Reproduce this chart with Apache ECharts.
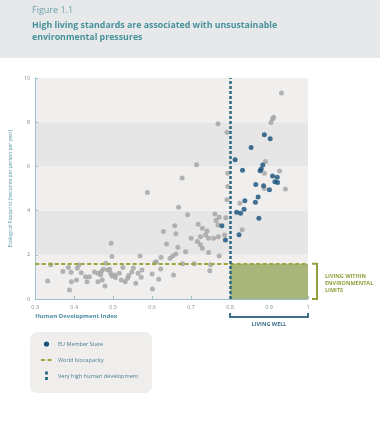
<!DOCTYPE html>
<html>
<head>
<meta charset="utf-8">
<script src="https://cdn.jsdelivr.net/npm/echarts@6/dist/echarts.min.js"></script>
<style>
html,body{margin:0;padding:0;background:#fff;}
#chart{width:385px;height:433px;}
</style>
</head>
<body>
<div id="chart"></div>
<script>
// ---- data (HDI, ecological footprint) ----
const otherCountries = [
  [0.332,0.82],[0.34,1.55],[0.371,1.24],[0.385,1.43],[0.388,0.41],[0.392,1.21],[0.393,0.78],
  [0.406,0.86],[0.408,1.39],[0.412,1.54],[0.418,1.19],[0.429,1.01],[0.433,0.78],[0.439,1.01],
  [0.452,1.22],[0.461,1.16],[0.461,0.78],[0.468,1.09],[0.47,1.24],[0.472,0.86],[0.475,1.35],
  [0.479,0.59],[0.481,1.62],[0.486,1.31],[0.491,1.35],[0.495,2.52],[0.497,1.92],[0.494,1.16],
  [0.497,1.04],[0.505,1.09],[0.506,0.97],[0.516,1.16],[0.521,0.86],[0.525,1.43],[0.531,0.78],
  [0.537,0.94],[0.54,1.06],[0.548,1.22],[0.552,1.4],[0.558,0.71],[0.564,1.16],[0.569,1.95],
  [0.572,0.98],[0.574,1.31],
  [0.588,4.82],[0.6,1.13],[0.601,0.45],[0.607,1.64],[0.611,1.69],[0.617,0.89],[0.622,1.36],
  [0.623,1.89],[0.629,3.05],[0.637,2.49],[0.646,1.84],[0.653,1.95],[0.655,1.09],[0.658,3.31],
  [0.661,2.95],[0.661,2.04],[0.666,2.34],[0.668,4.15],[0.677,5.47],[0.678,1.59],[0.686,2.14],
  [0.691,3.81],[0.7,2.75],[0.708,1.59],[0.714,6.07],[0.716,2.6],[0.718,3.38],[0.724,2.82],
  [0.724,2.45],[0.729,2.3],[0.729,3.2],[0.737,2.9],[0.741,3.08],[0.745,2.75],[0.745,2.1],
  [0.748,1.28],[0.75,1.55],[0.758,2.75],[0.761,3.85],[0.764,3.55],[0.769,3.35],[0.769,7.93],
  [0.77,2.82],[0.772,3.7],[0.772,1.95],[0.786,2.9],[0.789,3.68],[0.792,4.49],[0.792,7.54],
  [0.794,5.09],[0.794,5.69],[0.825,4.33],[0.831,3.13],[0.888,5.0],[0.888,5.69],[0.891,6.22],
  [0.905,7.99],[0.909,8.14],[0.912,8.22],[0.927,5.79],[0.932,9.32],[0.942,4.98]
];
const euMemberStates = [
  [0.779,3.31],[0.788,2.67],[0.813,6.3],[0.817,3.93],[0.823,2.91],[0.827,3.88],[0.832,5.83],
  [0.836,4.06],[0.838,4.45],[0.854,6.86],[0.865,4.38],[0.866,5.18],[0.872,4.62],[0.874,3.65],
  [0.877,5.8],[0.88,5.88],[0.884,6.06],[0.886,5.12],[0.888,7.43],[0.901,4.94],[0.903,7.25],
  [0.909,5.56],[0.915,5.3],[0.921,5.51],[0.922,5.27]
];
const worldBiocapacity = 1.6;
const veryHighHDI = 0.8;
const xRange = [0.3, 1.0];
const yRange = [0, 10];

const F = '"Open Sans", "Noto Sans", sans-serif';
const chart = echarts.init(document.getElementById('chart'), null, {renderer:'canvas'});

const option = {
  animation:false,
  backgroundColor:'#ffffff',
  grid:{left:30, top:78, width:278, height:221},
  xAxis:{
    type:'value', min:xRange[0], max:xRange[1], interval:0.1,
    name:'Human Development Index', nameLocation:'start', nameGap:0,
    nameTextStyle:{color:'#4d8ba2', fontFamily:F, fontSize:6, fontWeight:'bold', align:'left', verticalAlign:'top', padding:[14,0,0,0]},
    axisLine:{lineStyle:{color:'#9dbfd0', width:1}},
    axisTick:{show:true, inside:true, length:3, lineStyle:{color:'#9dbfd0'}},
    axisLabel:{color:'#7f8f96', fontFamily:F, fontSize:5.5, margin:5,
      formatter:v=>(Math.round(v*10)/10).toString()},
    splitLine:{show:false}
  },
  yAxis:{
    type:'value', min:yRange[0], max:yRange[1], interval:2,
    name:'Ecological Footprint (hectares per person per year)', nameLocation:'middle', nameGap:17,
    nameTextStyle:{color:'#5394a6', fontFamily:F, fontSize:5},
    axisLine:{show:true, lineStyle:{color:'#9dbfd0', width:1}},
    axisTick:{show:true, inside:true, length:3, lineStyle:{color:'#9dbfd0'}},
    axisLabel:{color:'#7f8f96', fontFamily:F, fontSize:5.5, margin:5},
    splitLine:{show:false},
    splitArea:{show:true, areaStyle:{color:['#f0efed','#e6e6e7']}}
  },
  series:[
    {
      type:'scatter', name:'Other', data:otherCountries, symbolSize:5,
      itemStyle:{color:'#a3a3a3'}, z:3,
      markArea:{silent:true, itemStyle:{color:'#a8b57b'},
        data:[[{xAxis:veryHighHDI, yAxis:0},{xAxis:xRange[1], yAxis:worldBiocapacity}]]}
    },
    {
      type:'scatter', name:'EU Member State', data:euMemberStates, symbolSize:5,
      itemStyle:{color:'#17507a'}, z:4
    },
    {
      type:'line', data:[], z:5,
      markLine:{silent:true, symbol:'none', label:{show:false},
        data:[
          {yAxis:worldBiocapacity, lineStyle:{color:'#9aa53c', width:2, type:[4,2.5]}},
          {xAxis:veryHighHDI, lineStyle:{color:'#2d6882', width:2.5, type:[3,2]}}
        ]}
    }
  ],
  graphic:[
    {type:'rect', shape:{x:0,y:0,width:380,height:58}, style:{fill:'#e7e8e9'}, z:0},
    {type:'text', left:32, top:6, style:{text:'Figure 1.1', fill:'#6aa3a8', font:'9px '+F}},
    {type:'text', left:32, top:19, style:{text:'High living standards are associated with unsustainable\nenvironmental pressures',
      fill:'#45929a', font:'bold 8.8px '+F, lineHeight:12}},
    // legend
    {type:'rect', shape:{x:30,y:332,width:122,height:61,r:7}, style:{fill:'#efeeec'}},
    {type:'circle', shape:{cx:46.5,cy:344,r:2.6}, style:{fill:'#17507a'}},
    {type:'text', left:58, top:341, style:{text:'EU Member State', fill:'#4d7e94', font:'5.5px '+F}},
    {type:'line', shape:{x1:41,y1:360,x2:52,y2:360}, style:{stroke:'#9aa53c', lineWidth:2, lineDash:[4,2.5]}},
    {type:'text', left:58, top:357, style:{text:'World biocapacity', fill:'#4d7e94', font:'5.5px '+F}},
    {type:'line', shape:{x1:46.5,y1:371.5,x2:46.5,y2:381.5}, style:{stroke:'#2d6882', lineWidth:2.8, lineDash:[3,2.5]}},
    {type:'text', left:58, top:373, style:{text:'Very high human development', fill:'#4d7e94', font:'5.6px '+F}}
  ]
};
chart.setOption(option);

// annotation brackets placed via the chart's own scales
const p08 = chart.convertToPixel({gridIndex:0}, [veryHighHDI, 0]);
const p10 = chart.convertToPixel({gridIndex:0}, [xRange[1], worldBiocapacity]);
const bx0 = p08[0], bx1 = p10[0], by0 = p08[1], byB = p10[1];
chart.setOption({graphic: option.graphic.concat([
  {type:'polyline', shape:{points:[[bx1+4,byB],[bx1+9,byB],[bx1+9,by0],[bx1+4,by0]]},
    style:{stroke:'#8fa23c', lineWidth:2, fill:null}},
  {type:'text', left:bx1+17, top:byB+9, style:{text:'LIVING WITHIN\nENVIRONMENTAL\nLIMITS',
    fill:'#8fa23c', font:'bold 5.5px '+F, lineHeight:7}},
  {type:'polyline', shape:{points:[[bx0,by0+14],[bx0,by0+18],[bx1,by0+18],[bx1,by0+14]]},
    style:{stroke:'#3d6f86', lineWidth:2, fill:null}},
  {type:'text', x:(bx0+bx1)/2, y:by0+25, style:{text:'LIVING WELL', fill:'#3d6f86',
    font:'bold 5.5px '+F, textAlign:'center', textVerticalAlign:'middle'}}
])});
</script>
</body>
</html>
